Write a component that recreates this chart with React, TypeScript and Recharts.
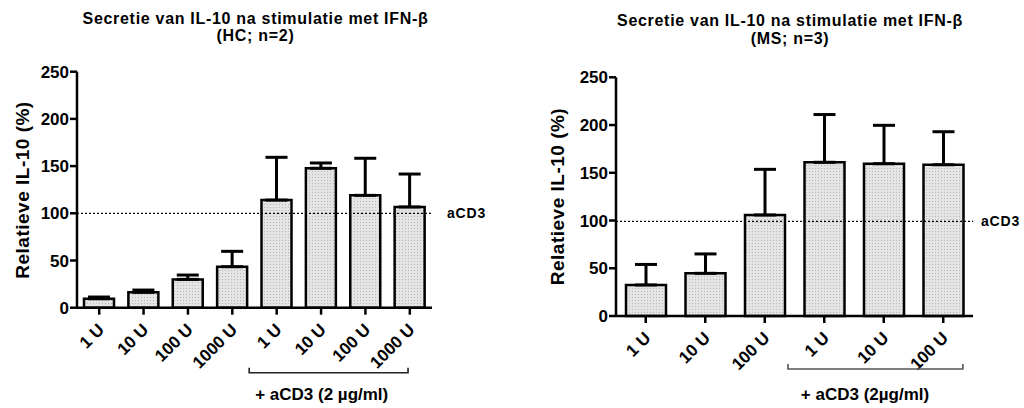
import React from "react";
import { BarChart, Bar, XAxis, YAxis, ErrorBar, ReferenceLine } from "recharts";

// healthy controls
const hcDoses = ["1 U", "10 U", "100 U", "1000 U", "1 U", "10 U", "100 U", "1000 U"];
const hcMean = [9.5, 16.3, 30, 43.4, 114, 147.7, 119, 106.7];
const hcSd = [1.8, 2.4, 4.6, 16.3, 45.3, 5.6, 39.3, 34.9];

// MS patients
const msDoses = ["1 U", "10 U", "100 U", "1 U", "10 U", "100 U"];
const msMean = [32.5, 44.7, 105.8, 161, 159.5, 158.4];
const msSd = [21.5, 20.3, 47.8, 50, 40.2, 34.6];

const yTicks = [0, 50, 100, 150, 200, 250];
const FONT = "'Liberation Sans', Arial, Helvetica, sans-serif";

const toRows = (doses: string[], mean: number[], sd: number[]) =>
	doses.map((dose, i) => ({ dose, mean: mean[i], err: [0, sd[i]] }));

type PanelProps = {
	id: string;
	left: number;
	rows: { dose: string; mean: number; err: number[] }[];
	margin: { top: number; right: number; bottom: number; left: number };
	yAxisWidth: number;
	xAxisHeight: number;
	barSize: number;
	refY: number;
	refLabelOffset: number;
	title: string[];
	titleX: number;
	titleY: number[];
	yLabelPos: [number, number];
	bracket: { from: number; to: number; y: number; color: string };
	bracketText: string;
	bracketTextX: number;
};

const DoseTick = (props: any) => {
	const { x, y, payload } = props;
	const ax = x + 6;
	const ay = y + 14;
	return (
		<text
			x={ax}
			y={ay}
			transform={`rotate(-45 ${ax} ${ay})`}
			textAnchor="end"
			fontFamily={FONT}
			fontWeight="bold"
			fontSize={17}
			fill="#000"
		>
			{payload.value}
		</text>
	);
};

function Panel(p: PanelProps) {
	const W = 512;
	const H = 408;
	const plotLeft = p.margin.left + p.yAxisWidth;
	const plotRight = W - p.margin.right;
	const band = (plotRight - plotLeft) / p.rows.length;
	const bx1 = plotLeft + band * p.bracket.from;
	const bx2 = plotLeft + band * p.bracket.to;
	return (
		<div style={{ position: "absolute", left: p.left, top: 0, width: W, height: H }}>
			<BarChart width={W} height={H} data={p.rows} margin={p.margin}>
				<defs>
					<pattern id={`dots-${p.id}`} width={3} height={3} patternUnits="userSpaceOnUse">
						<rect width={3} height={3} fill="#e4e4e4" />
						<rect width={1} height={1} fill="#b8b8b8" />
					</pattern>
				</defs>
				<XAxis
					dataKey="dose"
					height={p.xAxisHeight}
					interval={0}
					tick={DoseTick}
					tickSize={7}
					axisLine={{ stroke: "#000", strokeWidth: 2.5 }}
					tickLine={{ stroke: "#000", strokeWidth: 2.5 }}
				/>
				<YAxis
					width={p.yAxisWidth}
					domain={[0, 250]}
					ticks={yTicks}
					interval={0}
					tickSize={7}
					tickMargin={1}
					axisLine={{ stroke: "#000", strokeWidth: 2.5 }}
					tickLine={{ stroke: "#000", strokeWidth: 2.5 }}
					tick={{ fill: "#000", fontFamily: FONT, fontWeight: "bold", fontSize: 17 }}
				/>
				<Bar
					dataKey="mean"
					barSize={p.barSize}
					fill={`url(#dots-${p.id})`}
					stroke="#000"
					strokeWidth={2.5}
					isAnimationActive={false}
				>
					<ErrorBar dataKey="err" direction="y" width={11} stroke="#000" strokeWidth={3} />
				</Bar>
				<ReferenceLine
					y={p.refY}
					stroke="#000"
					strokeWidth={1.2}
					strokeDasharray="2 2"
					label={{
						value: "aCD3",
						position: "right",
						offset: p.refLabelOffset,
						fill: "#000",
						fontFamily: FONT,
						fontWeight: "bold",
						fontSize: 14,
						letterSpacing: 0.8,
					}}
				/>
			</BarChart>
			<svg
				width={W}
				height={H}
				style={{ position: "absolute", left: 0, top: 0, pointerEvents: "none" }}
				fontFamily={FONT}
				fontWeight="bold"
			>
				{p.title.map((line, i) => (
					<text
						key={i}
						x={p.titleX}
						y={p.titleY[i]}
						textAnchor="middle"
						fontSize={16}
						letterSpacing={0.7}
						fill="#000"
					>
						{line}
					</text>
				))}
				<text
					x={p.yLabelPos[0]}
					y={p.yLabelPos[1]}
					transform={`rotate(-90 ${p.yLabelPos[0]} ${p.yLabelPos[1]})`}
					textAnchor="middle"
					dominantBaseline="central"
					fontSize={19}
					letterSpacing={0.5}
					fill="#000"
				>
					Relatieve IL-10 (%)
				</text>
				<path
					d={`M${bx1},${p.bracket.y - 5}V${p.bracket.y}H${bx2}V${p.bracket.y - 5}`}
					fill="none"
					stroke={p.bracket.color}
					strokeWidth={1.6}
				/>
				<text x={p.bracketTextX} y={399.5} textAnchor="middle" fontSize={17} fill="#000">
					{p.bracketText}
				</text>
			</svg>
		</div>
	);
}

export default function App() {
	return (
		<div style={{ position: "absolute", left: 0, top: 0, width: 1024, height: 408, background: "#fff" }}>
			<Panel
				id="hc"
				left={0}
				rows={toRows(hcDoses, hcMean, hcSd)}
				margin={{ top: 71.7, right: 80, bottom: 30, left: 0 }}
				yAxisWidth={77}
				xAxisHeight={70.3}
				barSize={30}
				refY={100}
				refLabelOffset={15}
				title={["Secretie van IL-10 na stimulatie met IFN-β", "(HC; n=2)"]}
				titleX={255.5}
				titleY={[23.5, 41]}
				yLabelPos={[22, 190]}
				bracket={{ from: 3.88, to: 7.46, y: 372.7, color: "#222" }}
				bracketText="+ aCD3 (2 µg/ml)"
				bracketTextX={321.7}
			/>
			<Panel
				id="ms"
				left={512}
				rows={toRows(msDoses, msMean, msSd)}
				margin={{ top: 77.3, right: 51, bottom: 22, left: 0 }}
				yAxisWidth={104}
				xAxisHeight={70}
				barSize={40}
				refY={99}
				refLabelOffset={8}
				title={["Secretie van IL-10 na stimulatie met IFN-β", "(MS; n=3)"]}
				titleX={278}
				titleY={[26, 43.5]}
				yLabelPos={[45.5, 196.5]}
				bracket={{ from: 2.89, to: 5.83, y: 369, color: "#555" }}
				bracketText="+ aCD3 (2µg/ml)"
				bracketTextX={353}
			/>
		</div>
	);
}
